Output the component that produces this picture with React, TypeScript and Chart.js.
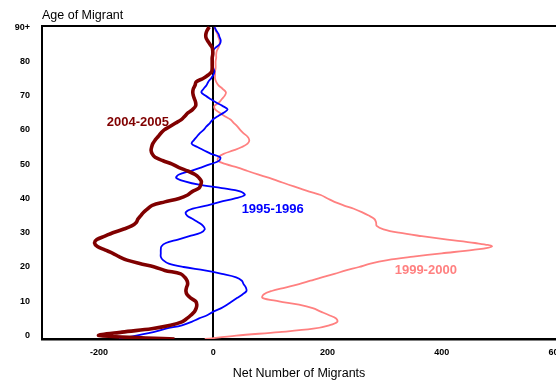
import React, { useEffect, useRef } from 'react';
import { Chart, registerables } from 'chart.js';

Chart.register(...registerables);

const ages = [
  -1, 0, 1, 2, 3, 4, 5, 6, 7, 8, 9, 10, 11, 12, 13, 14, 15, 16, 17, 18, 19, 20,
  21, 22, 23, 24, 25, 26, 27, 28, 29, 30, 31, 32, 33, 34, 35, 36, 37, 38, 39, 40,
  41, 42, 43, 44, 45, 46, 47, 48, 49, 50, 51, 52, 53, 54, 55, 56, 57, 58, 59, 60,
  61, 62, 63, 64, 65, 66, 67, 68, 69, 70, 71, 72, 73, 74, 75, 76, 77, 78, 79, 80,
  81, 82, 83, 84, 85, 86, 87, 88, 89, 90,
];

const net0405 = [
  -68, -200, -160, -108, -75, -55, -46, -39, -33, -30, -29, -31, -40, -46, -48, -47, -45, -46, -50, -57, -85, -103,
  -129, -151, -165, -176, -190, -203, -208, -204, -190, -176, -158, -143, -135, -132, -127, -122, -115, -107, -85, -60,
  -45, -37, -25, -22, -21, -25, -32, -45, -60, -72, -88, -102, -107, -109, -108, -106, -102, -97, -92, -86,
  -76, -66, -56, -50, -44, -36, -31, -31, -33, -35, -36, -35, -32, -30, -18, -9, -3, -2, -2, -2,
  -2, -1, -1, -2, -6, -10, -13, -13, -11, -7,
];

const net9596 = [
  -165, -135, -105, -83, -55, -38, -25, -10, 0, 14, 24, 33, 42, 51, 58, 57, 53, 50, 40, 15, -15, -52,
  -78, -88, -92, -92, -92, -91, -83, -62, -42, -22, -15, -18, -26, -36, -46, -48, -36, -10, 12, 38,
  55, 48, 15, -25, -50, -65, -60, -40, -22, -5, 10, 12, -4, -16, -28, -38, -34, -29, -24, -17,
  -12, -6, -1, 8, 18, 25, 16, 5, -5, -14, -21, -17, -12, -9, -4, 0, 2, 0, -1, -1,
  -1, -1, -1, 4, 11, 13, 11, 9, 5, 2,
];

const net9900 = [
  -15, 40, 115, 175, 203, 217, 215, 202, 188, 174, 150, 115, 86, 88, 102, 126, 150, 170, 190, 212, 232, 255,
  275, 305, 350, 400, 455, 488, 458, 410, 365, 325, 298, 286, 285, 282, 272, 260, 246, 228, 212, 200,
  188, 168, 150, 132, 115, 98, 78, 60, 43, 22, 8, 9, 18, 35, 50, 60, 63, 60, 53, 47,
  42, 36, 30, 20, 11, 3, 2, 10, 15, 20, 22, 16, 9, 5, 3, 3, 3, 4, 4, 4,
  5, 5, 6, 9, 11, 11, 9, 7, 4, 2,
];

const xTickValues = [-200, 0, 200, 400, 600];
const yTickValues = [0, 10, 20, 30, 40, 50, 60, 70, 80, 90];

const seriesNames = ['2004-2005', '1995-1996', '1999-2000'];
const seriesColors = ['#800000', '#0000FF', '#FF8080'];

// label anchors in data units (net migrants, age)
const labelAnchorX = [-132, 104, 372];
const labelAnchorY = [62.2, 36.9, 19.1];

const FONT = "'Liberation Sans', Arial, Helvetica, sans-serif";

const toPoints = (vals: number[]) => vals.map((v, i) => ({ x: v, y: ages[i] }));

const extrasPlugin = {
  id: 'extras',
  beforeDatasetsDraw(chart: any) {
    const { ctx, chartArea } = chart;
    ctx.save();
    ctx.strokeStyle = '#000';
    ctx.lineWidth = 2;
    ctx.beginPath();
    ctx.moveTo(chartArea.left - 1, chartArea.top);
    ctx.lineTo(chartArea.right + 50, chartArea.top);
    ctx.stroke();
    ctx.restore();
  },
  afterDatasetsDraw(chart: any) {
    const { ctx, chartArea, scales } = chart;
    ctx.save();
    ctx.font = `bold 13px ${FONT}`;
    ctx.textAlign = 'center';
    ctx.textBaseline = 'middle';
    seriesNames.forEach((name, i) => {
      ctx.fillStyle = seriesColors[i];
      ctx.fillText(name, scales.x.getPixelForValue(labelAnchorX[i]), scales.y.getPixelForValue(labelAnchorY[i]));
    });
    ctx.fillStyle = '#000';
    ctx.font = `12.5px ${FONT}`;
    ctx.textAlign = 'left';
    ctx.fillText('Age of Migrant', chartArea.left, chartArea.top - 10);
    ctx.restore();
  },
};

export default function App() {
  const canvasRef = useRef<HTMLCanvasElement | null>(null);

  useEffect(() => {
    if (!canvasRef.current) return;
    Chart.defaults.font.family = FONT;
    const datasets = [net0405, net9596, net9900].map((vals, i) => ({
      label: seriesNames[i],
      data: toPoints(vals),
      borderColor: seriesColors[i],
      backgroundColor: seriesColors[i],
      borderWidth: i === 0 ? 3.6 : 1.8,
      pointRadius: 0,
      tension: 0.35,
      fill: false,
    }));
    const chart = new Chart(canvasRef.current, {
      type: 'line',
      data: { datasets },
      plugins: [extrasPlugin],
      options: {
        animation: false,
        responsive: false,
        maintainAspectRatio: false,
        layout: { padding: { left: 0, top: 26, right: 44, bottom: 0 } },
        plugins: {
          legend: { display: false },
          tooltip: { enabled: false },
          title: { display: false },
        },
        scales: {
          x: {
            type: 'linear',
            min: -300,
            max: 600,
            afterBuildTicks: (scale: any) => {
              scale.ticks = xTickValues.map((v) => ({ value: v }));
            },
            afterFit: (scale: any) => {
              scale.height = 42;
            },
            ticks: {
              color: '#000',
              font: { size: 9, weight: 'bold' },
              padding: 8,
              maxRotation: 0,
              autoSkip: false,
            },
            grid: {
              display: true,
              drawTicks: false,
              color: (c: any) => (c.tick && c.tick.value === 0 ? '#000' : 'rgba(0,0,0,0)'),
              lineWidth: 2,
            },
            border: { display: true, color: '#000', width: 2.5 },
            title: {
              display: true,
              text: 'Net Number of Migrants',
              color: '#000',
              font: { size: 12.5 },
              padding: { top: 0, bottom: 0 },
            },
          },
          y: {
            type: 'linear',
            min: -1,
            max: 90.3,
            afterBuildTicks: (scale: any) => {
              scale.ticks = yTickValues.map((v) => ({ value: v }));
            },
            afterFit: (scale: any) => {
              scale.width = 42;
            },
            ticks: {
              color: '#000',
              font: { size: 9, weight: 'bold' },
              padding: 12,
              autoSkip: false,
              callback: (v: any) => (Number(v) === 90 ? '90+' : String(v)),
            },
            grid: { display: true, drawTicks: false, color: 'rgba(0,0,0,0)' },
            border: { display: true, color: '#000', width: 2 },
          },
        },
      },
    } as any);
    return () => chart.destroy();
  }, []);

  return (
    <div style={{ position: 'fixed', left: 0, top: 0, width: 556, height: 381, overflow: 'hidden', background: '#fff' }}>
      <canvas ref={canvasRef} width={600} height={381} style={{ width: 600, height: 381, display: 'block' }} />
    </div>
  );
}
